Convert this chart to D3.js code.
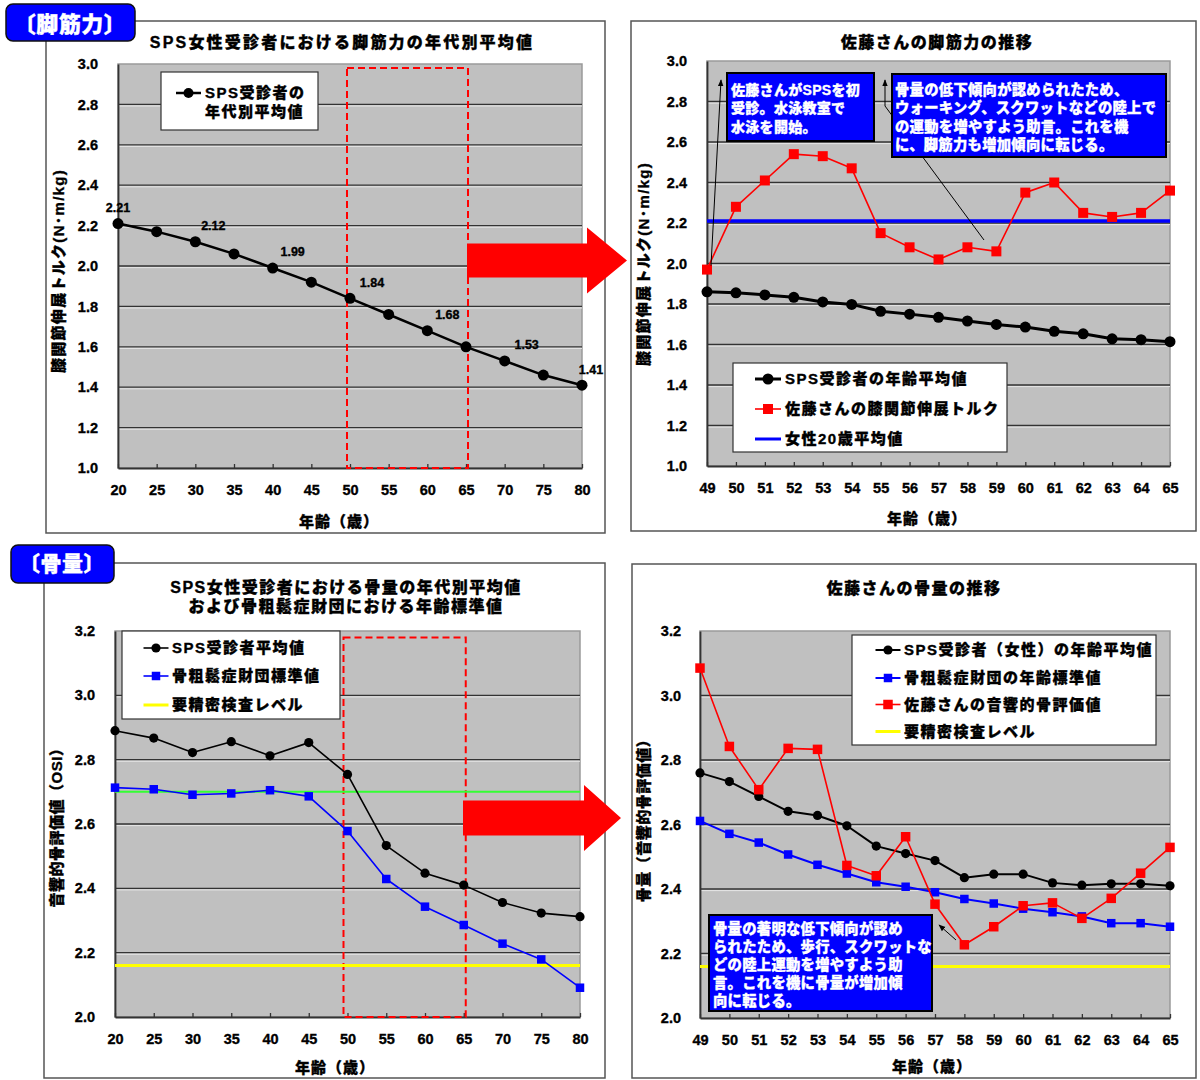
<!DOCTYPE html>
<html><head><meta charset="utf-8">
<script src="https://cdn.jsdelivr.net/npm/d3@7"></script>
<style>
body{margin:0;background:#fff;}
text{font-family:"Liberation Sans","Noto Sans CJK JP",sans-serif;font-weight:900;fill:#000;stroke:#000;stroke-width:0.35px;}
</style>
</head><body>
<svg id="c" width="1200" height="1080" xmlns="http://www.w3.org/2000/svg"></svg>
<script>
// ---------------- DATA ----------------
// Panel 1: SPS female average knee extension torque by age group
const p1Ages = [20,25,30,35,40,45,50,55,60,65,70,75,80];
const p1Torque = [2.21,2.17,2.12,2.06,1.99,1.92,1.84,1.76,1.68,1.60,1.53,1.46,1.41];
const p1LabeledAges = [20,30,40,50,60,70,80];
const p1YTicks = [1.0,1.2,1.4,1.6,1.8,2.0,2.2,2.4,2.6,2.8,3.0];
const p1XTicks = [20,25,30,35,40,45,50,55,60,65,70,75,80];

// Panel 2: Sato-san knee torque
const p2Ages = [49,50,51,52,53,54,55,56,57,58,59,60,61,62,63,64,65];
const p2SpsAvg = [1.86,1.855,1.845,1.833,1.81,1.798,1.764,1.75,1.734,1.716,1.699,1.686,1.665,1.653,1.628,1.624,1.614];
const p2Sato = [1.97,2.28,2.41,2.54,2.53,2.47,2.15,2.08,2.02,2.08,2.06,2.35,2.40,2.25,2.23,2.25,2.36];
const p2Female20 = 2.21;
const p2YTicks = [1.0,1.2,1.4,1.6,1.8,2.0,2.2,2.4,2.6,2.8,3.0];

// Panel 3: bone OSI by age group
const p3Ages = [20,25,30,35,40,45,50,55,60,65,70,75,80];
const p3SpsAvg = [2.89,2.867,2.822,2.856,2.812,2.853,2.754,2.533,2.447,2.41,2.356,2.323,2.312];
const p3Foundation = [2.713,2.708,2.691,2.695,2.705,2.686,2.578,2.429,2.343,2.286,2.228,2.179,2.091];
const p3GreenLevel = 2.70;
const p3ExamLevel = 2.16;
const p3YTicks = [2.0,2.2,2.4,2.6,2.8,3.0,3.2];

// Panel 4: Sato-san bone OSI
const p4Ages = [49,50,51,52,53,54,55,56,57,58,59,60,61,62,63,64,65];
const p4SpsAvg = [2.76,2.733,2.687,2.641,2.628,2.596,2.533,2.51,2.488,2.435,2.446,2.446,2.419,2.412,2.416,2.416,2.41];
const p4Foundation = [2.611,2.571,2.544,2.507,2.475,2.448,2.421,2.407,2.39,2.369,2.355,2.339,2.328,2.315,2.294,2.294,2.283];
const p4Sato = [3.085,2.842,2.708,2.836,2.833,2.473,2.441,2.562,2.353,2.227,2.283,2.348,2.357,2.309,2.371,2.449,2.529];
const p4ExamLevel = 2.16;
const p4YTicks = [2.0,2.2,2.4,2.6,2.8,3.0,3.2];

// ---------------- DRAWING ----------------
const FONT = '"Liberation Sans","Noto Sans CJK JP",sans-serif';
const svg = d3.select("#c");
const defs = svg.append("defs");
defs.append("marker").attr("id","ah").attr("viewBox","0 0 10 10").attr("refX",9).attr("refY",5)
  .attr("markerWidth",7).attr("markerHeight",7).attr("orient","auto-start-reverse")
  .append("path").attr("d","M0,1 L10,5 L0,9 Z").attr("fill","#000");

function frame(x,y,w,h){
  svg.append("rect").attr("x",x).attr("y",y).attr("width",w).attr("height",h)
    .attr("fill","none").attr("stroke","#555").attr("stroke-width",1.5);
}
function txt(x,y,s,size,opts={}){
  const t = svg.append("text").attr("x",x).attr("y",y)
    .attr("font-size",size).attr("text-anchor",opts.anchor||"middle")
    .attr("letter-spacing",opts.ls==null?1.5:opts.ls);
  const lines = Array.isArray(s)?s:[s];
  lines.forEach((l,k)=>{
    t.append("tspan").attr("x",x).attr("dy", k===0 ? "0.35em" : (opts.lh||18)+"px").text(l);
  });
  if(opts.rotate) t.attr("transform",`rotate(-90,${x},${y})`);
  if(opts.fill) t.style("fill",opts.fill).style("stroke",opts.fill);
  return t;
}
function makePlot(o){
  const xs = d3.scaleLinear().domain(o.xDomain).range([o.x0,o.x1]);
  const ys = d3.scaleLinear().domain(o.yDomain).range([o.y1,o.y0]);
  svg.append("rect").attr("x",o.x0).attr("y",o.y0).attr("width",o.x1-o.x0).attr("height",o.y1-o.y0)
    .attr("fill","#c0c0c0").attr("stroke","#9a9a9a").attr("stroke-width",1.5);
  const g = svg.append("g");
  o.yTicks.forEach((t,i)=>{
    if(i===0||i===o.yTicks.length-1) return;
    g.append("line").attr("x1",o.x0).attr("x2",o.x1).attr("y1",ys(t)).attr("y2",ys(t)).attr("stroke","#333").attr("stroke-width",1.3);
    g.append("line").attr("x1",o.x0).attr("x2",o.x1).attr("y1",ys(t)+1.6).attr("y2",ys(t)+1.6).attr("stroke","#e6e6e6").attr("stroke-width",1);
  });
  const ax = svg.append("g").attr("transform",`translate(0,${o.y1})`)
    .call(d3.axisBottom(xs).tickValues(o.xTicks).tickSizeInner(-4).tickSizeOuter(0).tickPadding(17).tickFormat(d3.format("d")));
  const ay = svg.append("g").attr("transform",`translate(${o.x0},0)`)
    .call(d3.axisLeft(ys).tickValues(o.yTicks).tickSizeInner(0).tickSizeOuter(0).tickPadding(o.yPad||20).tickFormat(d3.format(".1f")));
  [ax,ay].forEach(a=>{
    a.select(".domain").attr("stroke","#333").attr("stroke-width",1.8);
    a.selectAll(".tick line").attr("stroke","#333").attr("stroke-width",1.3);
    a.selectAll("text").attr("font-size",14.5).style("font-family",FONT)
      .style("font-weight","900").style("fill","#000").style("stroke","#000").style("stroke-width","0.35px");
  });
  return {xs,ys};
}
function line(xs,ys,xv,yv,color,w){
  svg.append("path").datum(xv.map((x,i)=>[x,yv[i]]))
    .attr("d",d3.line().x(d=>xs(d[0])).y(d=>ys(d[1])))
    .attr("fill","none").attr("stroke",color).attr("stroke-width",w).attr("stroke-linejoin","round");
}
function markers(xs,ys,xv,yv,type,color,size){
  const g = svg.append("g");
  xv.forEach((x,i)=>{
    if(type==="circle") g.append("circle").attr("cx",xs(x)).attr("cy",ys(yv[i])).attr("r",size).attr("fill",color);
    else g.append("rect").attr("x",xs(x)-size/2).attr("y",ys(yv[i])-size/2).attr("width",size).attr("height",size).attr("fill",color);
  });
}
function hline(xs,ys,v,color,w){
  svg.append("line").attr("x1",xs.range()[0]).attr("x2",xs.range()[1]).attr("y1",ys(v)).attr("y2",ys(v))
    .attr("stroke",color).attr("stroke-width",w);
}
function dashRect(x0,y0,x1,y1){
  svg.append("rect").attr("x",x0).attr("y",y0).attr("width",x1-x0).attr("height",y1-y0)
    .attr("fill","none").attr("stroke","#ff0000").attr("stroke-width",2).attr("stroke-dasharray","7,4");
}
function legend(x,y,w,h,items,lx0,lx1,tx){
  svg.append("rect").attr("x",x).attr("y",y).attr("width",w).attr("height",h).attr("fill","#fff").attr("stroke","#333").attr("stroke-width",1.2);
  items.forEach(it=>{
    svg.append("line").attr("x1",lx0).attr("x2",lx1).attr("y1",it.y).attr("y2",it.y).attr("stroke",it.color).attr("stroke-width",it.w);
    const cx=(lx0+lx1)/2;
    if(it.m==="circle") svg.append("circle").attr("cx",cx).attr("cy",it.y).attr("r",it.s).attr("fill",it.color);
    if(it.m==="square") svg.append("rect").attr("x",cx-it.s/2).attr("y",it.y-it.s/2).attr("width",it.s).attr("height",it.s).attr("fill",it.color);
    txt(tx,it.y,it.label,15,{anchor:"start",lh:19});
  });
}
function noteBox(x,y,w,h,lines,tx,ty0,lh,size){
  svg.append("rect").attr("x",x).attr("y",y).attr("width",w).attr("height",h).attr("fill","#0000ff").attr("stroke","#000").attr("stroke-width",2);
  txt(tx,ty0,lines,size,{anchor:"start",ls:0.3,fill:"#fff",lh:lh});
}
function badge(x,y,w,h,label,size,cx,cy){
  svg.append("rect").attr("x",x).attr("y",y).attr("width",w).attr("height",h).attr("rx",7)
    .attr("fill","#0000ff").attr("stroke","#111").attr("stroke-width",1.5);
  txt(cx,cy,label,size,{ls:0.5,fill:"#fff"});
}
function blockArrow(x0,x1,xh,yc,sh,hh){
  svg.append("polygon").attr("points",[[x0,yc-sh],[xh,yc-sh],[xh,yc-hh],[x1,yc],[xh,yc+hh],[xh,yc+sh],[x0,yc+sh]].map(p=>p.join(",")).join(" "))
    .attr("fill","#ff0000");
}

// ===== Panel 1 =====
frame(46,21,559,512);
{
  const {xs,ys} = makePlot({x0:118,x1:582,y0:64,y1:468,xDomain:[20,80],yDomain:[1.0,3.0],yTicks:p1YTicks,xTicks:p1XTicks});
  dashRect(xs(50)-3, ys(2.98), xs(65)+2, ys(1.0));
  line(xs,ys,p1Ages,p1Torque,"#000",2.5);
  markers(xs,ys,p1Ages,p1Torque,"circle","#000",5.5);
  const labelDx = [0,18,20,22,20,22,9];
  p1LabeledAges.forEach((a,i)=>{
    const v = p1Torque[p1Ages.indexOf(a)];
    txt(xs(a)+labelDx[i], ys(v)-16, v.toFixed(2), 12.5, {ls:0});
  });
  legend(161,72,157,58,[{y:93,color:"#000",w:2.5,m:"circle",s:5,label:["SPS受診者の","年代別平均値"]}],176,201,205);
  txt(342,42,"SPS女性受診者における脚筋力の年代別平均値",16,{ls:2.2});
  txt(339,522,"年齢（歳）",15,{ls:1});
  txt(59,271,"膝関節伸展トルク(N･m/kg)",15,{rotate:true,ls:1.3});
}
badge(6,4,129,37,"〔脚筋力〕",22,70,24);

// ===== Panel 2 =====
frame(631,21,565,510);
{
  const {xs,ys} = makePlot({x0:707,x1:1170,y0:61,y1:466,xDomain:[49,65],yDomain:[1.0,3.0],yTicks:p2YTicks,xTicks:p2Ages});
  hline(xs,ys,p2Female20,"#0000ff",3.5);
  line(xs,ys,p2Ages,p2SpsAvg,"#000",3);
  markers(xs,ys,p2Ages,p2SpsAvg,"circle","#000",5.5);
  line(xs,ys,p2Ages,p2Sato,"#ff0000",1.6);
  markers(xs,ys,p2Ages,p2Sato,"square","#ff0000",10);
  svg.append("line").attr("x1",xs(49)+4).attr("y1",ys(p2Sato[0])-4).attr("x2",721).attr("y2",80)
    .attr("stroke","#000").attr("stroke-width",1).attr("marker-end","url(#ah)");
  svg.append("path").attr("d","M984,240 L885,106 L885,80").attr("fill","none")
    .attr("stroke","#000").attr("stroke-width",1).attr("marker-end","url(#ah)");
  noteBox(727,73,147,68,["佐藤さんがSPSを初","受診。水泳教室で","水泳を開始。"],731,90,18.5,14);
  noteBox(892,74,274,83,["骨量の低下傾向が認められたため、","ウォーキング、スクワットなどの陸上で","の運動を増やすよう助言。これを機","に、脚筋力も増加傾向に転じる。"],895,90,18.3,14.3);
  legend(733,363,274,89,[
    {y:379,color:"#000",w:3,m:"circle",s:5.5,label:"SPS受診者の年齢平均値"},
    {y:409,color:"#ff0000",w:1.6,m:"square",s:10,label:"佐藤さんの膝関節伸展トルク"},
    {y:439,color:"#0000ff",w:3,m:null,label:"女性20歳平均値"}],755,781,785);
  txt(937,42,"佐藤さんの脚筋力の推移",16,{ls:1.5});
  txt(927,519,"年齢（歳）",15,{ls:1});
  txt(644,264,"膝関節伸展トルク(N･m/kg)",15,{rotate:true,ls:1.3});
}

// ===== Panel 3 =====
frame(44,563,561,515);
{
  const {xs,ys} = makePlot({x0:115,x1:580,y0:631,y1:1017,xDomain:[20,80],yDomain:[2.0,3.2],yTicks:p3YTicks,xTicks:p3Ages});
  dashRect(xs(50)-4, ys(3.18), xs(65)+2, ys(2.0));
  hline(xs,ys,p3GreenLevel,"#33ff33",2);
  hline(xs,ys,p3ExamLevel,"#ffff00",3);
  line(xs,ys,p3Ages,p3SpsAvg,"#000",1.6);
  markers(xs,ys,p3Ages,p3SpsAvg,"circle","#000",4.6);
  line(xs,ys,p3Ages,p3Foundation,"#0000ff",1.6);
  markers(xs,ys,p3Ages,p3Foundation,"square","#0000ff",8.5);
  legend(122,631,218,88,[
    {y:648,color:"#000",w:1.6,m:"circle",s:4.6,label:"SPS受診者平均値"},
    {y:676,color:"#0000ff",w:1.6,m:"square",s:8.5,label:"骨粗鬆症財団標準値"},
    {y:705,color:"#ffff00",w:3,m:null,label:"要精密検査レベル"}],143.5,168.5,172);
  txt(346,587,["SPS女性受診者における骨量の年代別平均値","および骨粗鬆症財団における年齢標準値"],16,{ls:1.5,lh:19});
  txt(335,1068,"年齢（歳）",15,{ls:1});
  txt(57,824,"音響的骨評価値（OSI）",15,{rotate:true,ls:0.5});
}
badge(11,545,103,38,"〔骨量〕",21,62,564);

// ===== Panel 4 =====
frame(632,564,564,514);
{
  const {xs,ys} = makePlot({x0:700,x1:1170,y0:631,y1:1018,xDomain:[49,65],yDomain:[2.0,3.2],yTicks:p4YTicks,xTicks:p4Ages,yPad:19});
  hline(xs,ys,p4ExamLevel,"#ffff00",3);
  line(xs,ys,p4Ages,p4SpsAvg,"#000",2);
  markers(xs,ys,p4Ages,p4SpsAvg,"circle","#000",4.6);
  line(xs,ys,p4Ages,p4Foundation,"#0000ff",2);
  markers(xs,ys,p4Ages,p4Foundation,"square","#0000ff",8.5);
  line(xs,ys,p4Ages,p4Sato,"#ff0000",1.6);
  markers(xs,ys,p4Ages,p4Sato,"square","#ff0000",9.5);
  svg.append("line").attr("x1",956).attr("y1",940).attr("x2",939).attr("y2",925)
    .attr("stroke","#000").attr("stroke-width",1).attr("marker-end","url(#ah)");
  noteBox(709,915,223,96,["骨量の著明な低下傾向が認め","られたため、歩行、スクワットな","どの陸上運動を増やすよう助","言。これを機に骨量が増加傾","向に転じる。"],713,929,18.1,14.3);
  legend(852,635,304,110,[
    {y:650,color:"#000",w:2,m:"circle",s:4.6,label:"SPS受診者（女性）の年齢平均値"},
    {y:678,color:"#0000ff",w:2,m:"square",s:8.5,label:"骨粗鬆症財団の年齢標準値"},
    {y:704.5,color:"#ff0000",w:1.6,m:"square",s:9.5,label:"佐藤さんの音響的骨評価値"},
    {y:731.5,color:"#ffff00",w:3,m:null,label:"要精密検査レベル"}],875.5,900.5,904);
  txt(914,588,"佐藤さんの骨量の推移",16,{ls:1.5});
  txt(932,1067,"年齢（歳）",15,{ls:1});
  txt(644,817,"骨量（音響的骨評価値）",15,{rotate:true,ls:0.5});
}

// big red arrows between panels
blockArrow(467,627,587,260.5,17,33);
blockArrow(463,621,584,818,17.5,33);
</script>
</body></html>
